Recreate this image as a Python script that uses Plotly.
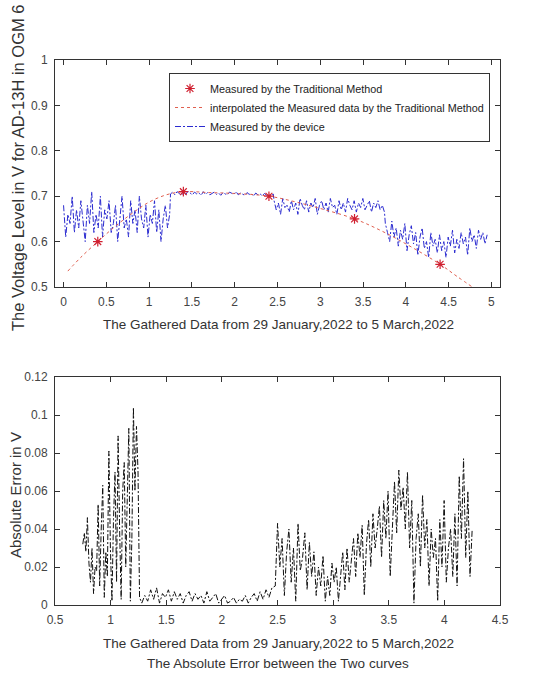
import numpy as np
import plotly.graph_objects as go

# ---------------- data ----------------
trad_x = [0.4, 1.4, 2.4, 3.4, 4.4]
trad_y = [0.60, 0.71, 0.70, 0.65, 0.55]

interp_x = [0.05, 0.2, 0.4, 0.6, 0.8, 1.0, 1.2, 1.4, 1.7, 2.0, 2.4, 2.7, 3.0, 3.4, 3.7, 4.0, 4.4, 4.6, 4.8]
interp_y = [0.535, 0.565, 0.600, 0.633, 0.662, 0.687, 0.703, 0.710, 0.708, 0.706, 0.700, 0.688, 0.673, 0.650, 0.625, 0.595, 0.550, 0.523, 0.497]

dev_seg1 = [0.68,0.61,0.66,0.64,0.70,0.62,0.67,0.63,0.69,0.65,0.60,0.68,0.64,0.71,0.62,0.66,0.63,0.70,0.61,0.67,
            0.65,0.69,0.62,0.64,0.68,0.60,0.66,0.70,0.63,0.65,0.61,0.69,0.64,0.67,0.62,0.70,0.65,0.63,0.68,0.61,
            0.66,0.64,0.69,0.62,0.67,0.60,0.65,0.68,0.63,0.66]
dev_seg2 = [0.705,0.709,0.703,0.710,0.706,0.702,0.708,0.704,0.711,0.706,0.703,0.709,0.705,0.707,0.702,0.710,
            0.704,0.708,0.703,0.706,0.709,0.704,0.707,0.702,0.708,0.705,0.703,0.709,0.706,0.704,0.710,0.703,
            0.707,0.705,0.702,0.708,0.704,0.706,0.700,0.707,0.703,0.705,0.701,0.706,0.702,0.704,0.700,0.705]
dev_seg3 = [0.69,0.67,0.685,0.66,0.695,0.675,0.68,0.665,0.69,0.67,0.685,0.66,0.695,0.68,0.67,0.69,0.665,0.685,
            0.675,0.695,0.66,0.68,0.69,0.67,0.685,0.665,0.695,0.675,0.68,0.66,0.69,0.67,0.685,0.665,0.695,0.68,
            0.67,0.69,0.665,0.685,0.675,0.695,0.67,0.68,0.69,0.665,0.685,0.675,0.69,0.67,0.68,0.665]
dev_seg4 = [0.64,0.62,0.60,0.645,0.61,0.63,0.59,0.625,0.605,0.64,0.58,0.615,0.635,0.595,0.62,0.57,0.61,0.63,
            0.585,0.60,0.565,0.62,0.59,0.605,0.575,0.615,0.58,0.60,0.565,0.61,0.59,0.625,0.575,0.605,0.585,0.62,
            0.595,0.61,0.57,0.63,0.60,0.615,0.585,0.625,0.605,0.62,0.595,0.615]
dev_ranges = [(0.0, 1.24), (1.25, 2.45), (2.46, 3.75), (3.76, 4.95)]

err_seg1 = [0.032,0.038,0.028,0.046,0.022,0.012,0.030,0.006,0.020,0.018,0.053,0.010,0.040,0.063,0.004,0.028,
            0.015,0.081,0.030,0.002,0.045,0.070,0.012,0.089,0.040,0.003,0.060,0.075,0.020,0.055,0.093,0.002,
            0.035,0.104,0.060,0.094,0.070,0.004]
err_seg2 = [0.001,0.005,0.002,0.008,0.003,0.009,0.001,0.006,0.004,0.008,0.002,0.007,0.003,0.006,0.001,0.005,
            0.007,0.002,0.006,0.003,0.005,0.001,0.007,0.002,0.004,0.006,0.001,0.003,0.005,0.001,0.002,0.004,
            0.001,0.003,0.002,0.005,0.001,0.004,0.006,0.002,0.007,0.003,0.008,0.004,0.009]
err_seg3 = [0.010,0.043,0.020,0.035,0.005,0.028,0.040,0.012,0.030,0.002,0.043,0.018,0.025,0.038,0.008,0.033,
            0.015,0.028,0.005,0.020,0.010,0.026,0.002,0.015]
err_seg4 = [0.005,0.022,0.012,0.020,0.002,0.015,0.028,0.008,0.030,0.012,0.022,0.035,0.015,0.038,0.025,0.042,
            0.005,0.032,0.045,0.020,0.048,0.030,0.040,0.052,0.025,0.055,0.035,0.060,0.015,0.045,0.065,0.038,
            0.071,0.050,0.062,0.040,0.070,0.030,0.055,0.001,0.035,0.048,0.020,0.058,0.030,0.045,0.010,0.040,
            0.025,0.035,0.002,0.045,0.020,0.055,0.012,0.030,0.040,0.015,0.048,0.010,0.068,0.035,0.077,0.025,
            0.060,0.015,0.040]
err_ranges = [(0.75, 1.26), (1.28, 2.45), (2.48, 2.95), (2.97, 4.25)]

top_xticks = [0, 0.5, 1, 1.5, 2, 2.5, 3, 3.5, 4, 4.5, 5]
top_yticks = [0.5, 0.6, 0.7, 0.8, 0.9, 1]
bot_xticks = [0.5, 1, 1.5, 2, 2.5, 3, 3.5, 4, 4.5]
bot_yticks = [0, 0.02, 0.04, 0.06, 0.08, 0.1, 0.12]

x_title = "The Gathered Data from 29 January,2022 to 5 March,2022"
top_y_title = "The Voltage Level in V for AD-13H in OGM 6"
bot_y_title = "Absolute Error in V"
bot_caption = "The Absolute Error between the Two curves"

# ---------------- build ----------------
def join(segs, ranges):
    xs, ys = [], []
    for s, (a, b) in zip(segs, ranges):
        xs.extend(np.linspace(a, b, len(s)).tolist())
        ys.extend(s)
    return xs, ys

dev_x, dev_y = join([dev_seg1, dev_seg2, dev_seg3, dev_seg4], dev_ranges)
err_x, err_y = join([err_seg1, err_seg2, err_seg3, err_seg4], err_ranges)

W, H = 534, 673
def px(x): return x / W
def py(y): return 1 - y / H

FONT = "Liberation Sans, Arial, sans-serif"
TICKC = "#444444"

fig = go.Figure()
fig.add_trace(go.Scatter(x=dev_x, y=dev_y, mode="lines", name="Measured by the device",
                         line=dict(color="#2b2bd0", width=1, dash="6px,2px,2px,2px"),
                         xaxis="x", yaxis="y", legendrank=3))
fig.add_trace(go.Scatter(x=interp_x, y=interp_y, mode="lines", line_shape="spline",
                         name="interpolated the Measured data by the Traditional Method",
                         line=dict(color="#e06050", width=1, dash="dot"),
                         xaxis="x", yaxis="y", legendrank=2))
fig.add_trace(go.Scatter(x=trad_x, y=trad_y, mode="markers", name="Measured by the Traditional Method",
                         marker=dict(symbol="asterisk-open", size=8, color="#d02030",
                                     line=dict(color="#d02030", width=1.2)),
                         xaxis="x", yaxis="y", legendrank=1))
fig.add_trace(go.Scatter(x=err_x, y=err_y, mode="lines", showlegend=False,
                         line=dict(color="#111111", width=1, dash="6px,2px,2px,2px"),
                         xaxis="x2", yaxis="y2"))

axis_common = dict(showline=True, linecolor="#333333", linewidth=1, mirror="ticks",
                   ticks="inside", ticklen=5, tickcolor="#333333", showgrid=False, zeroline=False,
                   automargin=False, ticklabelstandoff=4,
                   tickfont=dict(family=FONT, size=12, color=TICKC))

fig.update_layout(
    width=W, height=H, margin=dict(l=0, r=0, t=0, b=0, autoexpand=False),
    paper_bgcolor="white", plot_bgcolor="white",
    font=dict(family=FONT),
    showlegend=True,
    legend=dict(x=px(169), y=py(73), xanchor="left", yanchor="top",
                bordercolor="#333333", borderwidth=1, bgcolor="white",
                font=dict(family=FONT, size=10.8, color="#222222"),
                tracegroupgap=0, itemwidth=30),
    xaxis=dict(domain=[px(55), px(500)], range=[-0.1, 5.1], tickvals=top_xticks,
               anchor="y", **axis_common),
    yaxis=dict(domain=[py(287), py(60)], range=[0.5, 1.0], tickvals=top_yticks,
               anchor="x", **axis_common),
    xaxis2=dict(domain=[px(55), px(500)], range=[0.5, 4.5], tickvals=bot_xticks,
                anchor="y2", **axis_common),
    yaxis2=dict(domain=[py(605), py(377)], range=[0, 0.12], tickvals=bot_yticks,
                anchor="x2", **axis_common),
)

ann_font = dict(family=FONT, size=13.5, color="#333333")
def ann(text, x, y, **kw):
    fig.add_annotation(text=text, x=px(x), y=py(y), xref="paper", yref="paper",
                       xanchor="center", yanchor="middle", showarrow=False, **kw)

ann(x_title, 278, 324, font=ann_font)
ann(x_title, 278, 643, font=ann_font)
ann(bot_caption, 278, 663, font=ann_font)
ann(top_y_title, 18, 168, textangle=-90, font=dict(family=FONT, size=16.5, color="#333333"))
ann(bot_y_title, 15, 495, textangle=-90, font=dict(family=FONT, size=15, color="#333333"))

fig.write_html("out.html", config={"displayModeBar": False},
               post_script="document.body.style.margin='0';document.body.style.overflow='hidden';")
